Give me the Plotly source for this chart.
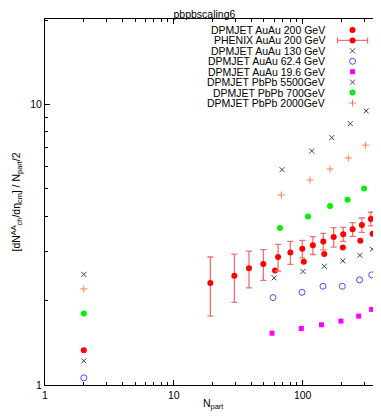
import plotly.graph_objects as go

# DPMJET AuAu 200 GeV
npart_au200 = [2, 61, 102, 147, 205, 280, 349]
val_au200 = [1.33, 2.56, 2.75, 2.93, 3.09, 3.27, 3.46]

# PHENIX AuAu 200 GeV (with errors)
npart_phenix = [19.2, 29.5, 38.3, 49.5, 64.4, 80.2, 99.3, 120, 144.5, 174, 206.5, 244, 288, 338]
val_phenix = [2.31, 2.45, 2.61, 2.70, 2.86, 2.97, 3.06, 3.15, 3.25, 3.37, 3.45, 3.59, 3.72, 3.91]
err_phenix = [0.55, 0.48, 0.39, 0.34, 0.31, 0.28, 0.22, 0.23, 0.22, 0.27, 0.20, 0.20, 0.22, 0.22]

# DPMJET AuAu 130 GeV
npart_au130 = [2, 60, 100.5, 147, 205, 278, 347]
val_au130 = [1.22, 2.41, 2.54, 2.65, 2.77, 2.90, 3.05]

# DPMJET AuAu 62.4 GeV
npart_au62 = [2, 58.9, 98.8, 143.7, 203, 276.5, 343]
val_au62 = [1.06, 2.05, 2.14, 2.25, 2.25, 2.37, 2.47]

# DPMJET AuAu 19.6 GeV
npart_au19 = [57.8, 97.6, 140, 198, 272, 343]
val_au19 = [1.53, 1.59, 1.64, 1.69, 1.76, 1.86]

# DPMJET PbPb 5500GeV
npart_pb5500 = [2, 69.1, 117.5, 168, 234, 311, 381]
val_pb5500 = [2.48, 5.86, 6.83, 7.62, 8.55, 9.49, 10.6]

# DPMJET PbPb 700GeV
npart_pb700 = [2, 66.7, 110, 163, 223, 300, 372]
val_pb700 = [1.80, 3.63, 3.99, 4.35, 4.58, 5.02, 5.47]

# DPMJET PbPb 2000GeV
npart_pb2000 = [2, 68.3, 114, 163, 226, 308, 379]
val_pb2000 = [2.20, 4.76, 5.38, 5.89, 6.45, 7.16, 7.86]

FONT = "Liberation Sans, Arial, sans-serif"

series = [
    ("DPMJET AuAu 200 GeV", npart_au200, val_au200, dict(symbol="circle", size=6, color="#ff0000"), None),
    ("PHENIX AuAu 200 GeV", npart_phenix, val_phenix, dict(symbol="circle", size=6, color="#ff0000"), err_phenix),
    ("DPMJET AuAu 130 GeV", npart_au130, val_au130,
     dict(symbol="x-thin", size=5, color="#404040", line=dict(color="#404040", width=1)), None),
    ("DPMJET AuAu 62.4 GeV", npart_au62, val_au62,
     dict(symbol="circle-open", size=6, color="#4a4aff", line=dict(color="#4a4aff", width=1)), None),
    ("DPMJET AuAu 19.6 GeV", npart_au19, val_au19, dict(symbol="square", size=5, color="#ff00ff"), None),
    ("DPMJET PbPb 5500GeV", npart_pb5500, val_pb5500,
     dict(symbol="x-thin", size=5, color="#404040", line=dict(color="#404040", width=1)), None),
    ("DPMJET PbPb 700GeV", npart_pb700, val_pb700, dict(symbol="circle", size=6, color="#00ee00"), None),
    ("DPMJET PbPb 2000GeV", npart_pb2000, val_pb2000,
     dict(symbol="cross-thin", size=5, color="#ff7f50", line=dict(color="#ff7f50", width=1)), None),
]

fig = go.Figure()

for name, xs, ys, mk, err in series:
    tr = go.Scatter(x=xs, y=ys, mode="markers", name=name, marker=mk, showlegend=False,
                    cliponaxis=False)
    if err is not None:
        tr.error_y = dict(type="data", array=err, color="#f07070", thickness=1.3, width=3)
    fig.add_trace(tr)

# hand-made legend, gnuplot style: text right aligned, key on the right
row0 = 0.970
dy = 0.0285
for i, (name, xs, ys, mk, err) in enumerate(series):
    yk = row0 - i * dy
    fig.add_annotation(x=0.842, y=yk, xref="paper", yref="paper", text=name,
                       showarrow=False, xanchor="right", yanchor="middle",
                       font=dict(family=FONT, size=10.5, color="black"))
    key = go.Scatter(x=[0.918], y=[yk], mode="markers", marker=mk, showlegend=False,
                     xaxis="x2", yaxis="y2", hoverinfo="skip")
    if err is not None:
        key.error_x = dict(type="constant", value=0.045, color="#f07070", thickness=1.3, width=3)
    fig.add_trace(key)

# axis titles placed by hand
fig.add_annotation(x=0.501, y=-0.052, xref="paper", yref="paper", text="N<sub>part</sub>",
                   showarrow=False, xanchor="center", yanchor="middle",
                   font=dict(family=FONT, size=10.5, color="black"))
fig.add_annotation(x=-0.085, y=0.5, xref="paper", yref="paper", textangle=-90,
                   text="[dN<sup>AA</sup><sub>ch</sub>/dη<sub>cm</sub>] / N<sub>part</sub>/2",
                   showarrow=False, xanchor="center", yanchor="middle",
                   font=dict(family=FONT, size=10.5, color="black"))

axis_common = dict(
    type="log", showgrid=False, zeroline=False, automargin=False,
    showline=True, linecolor="black", linewidth=1, mirror="ticks",
    ticks="inside", ticklen=5, tickcolor="black", dtick=1,
    tickfont=dict(family=FONT, size=10.5, color="black"),
    minor=dict(ticks="inside", ticklen=3, tickcolor="black", dtick="D1", showgrid=False),
)

# page body adds an 8px offset, so the figure is 8px smaller than the window
fig.update_layout(
    width=373, height=412,
    margin=dict(l=37, r=1, t=11, b=35, autoexpand=False),
    paper_bgcolor="white", plot_bgcolor="white",
    font=dict(family=FONT, size=10.5, color="black"),
    title=dict(text="pbpbscaling6", x=0.476, xref="paper", xanchor="center",
               y=1 - 6 / 412, yref="container", yanchor="middle",
               font=dict(family=FONT, size=10.5, color="black")),
    xaxis=dict(axis_common, range=[0, 2.6]),
    yaxis=dict(axis_common, range=[0, 1.305]),
    xaxis2=dict(overlaying="x", range=[0, 1], visible=False),
    yaxis2=dict(overlaying="y", range=[0, 1], visible=False),
    showlegend=False,
)

fig.write_html("out.html")
